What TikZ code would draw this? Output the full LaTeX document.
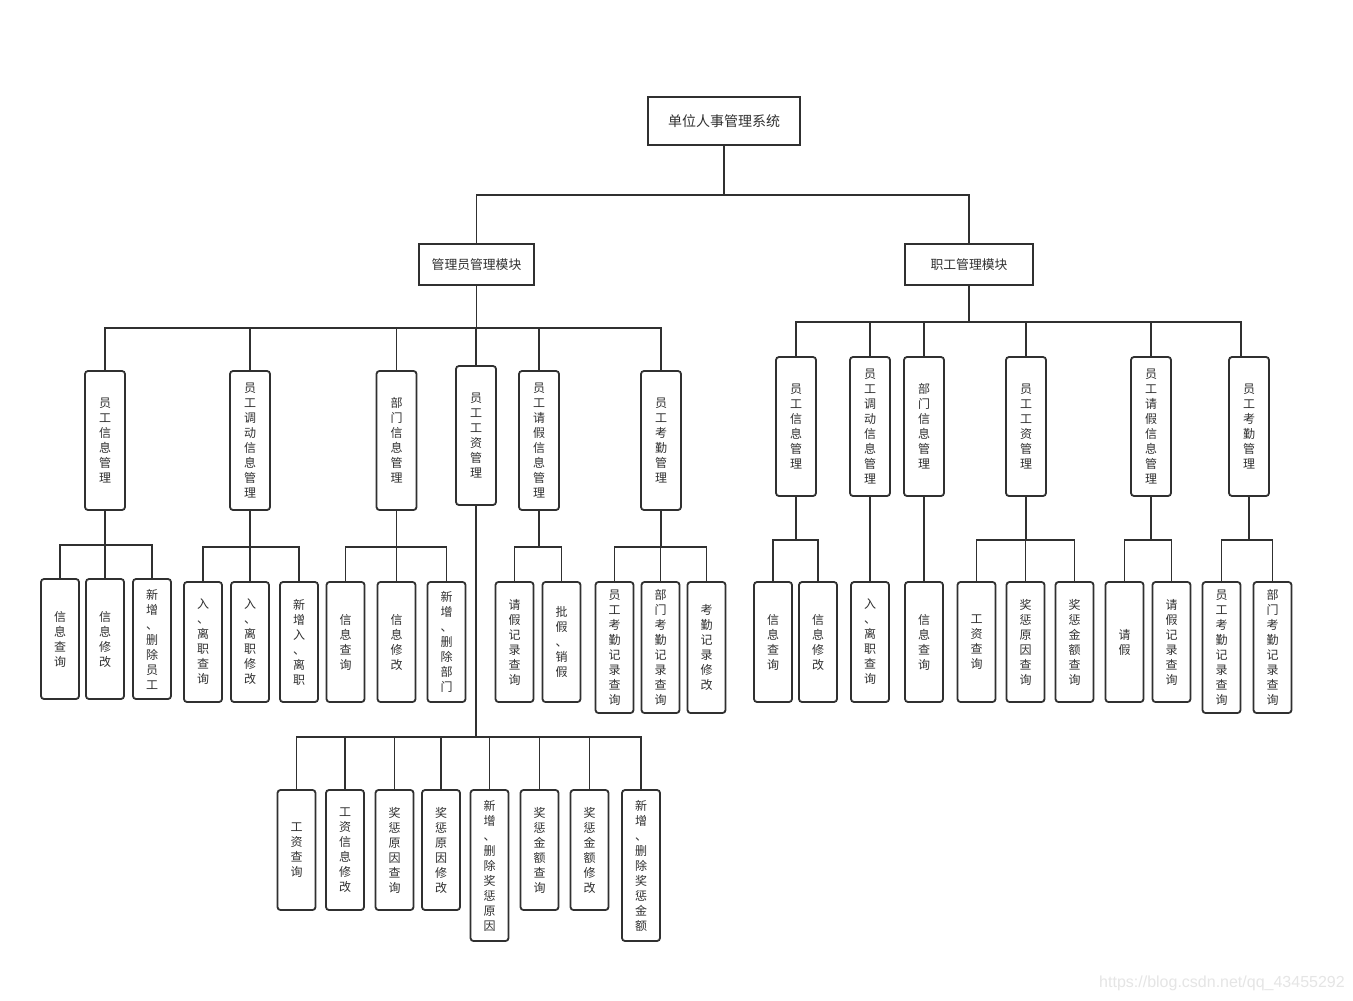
\documentclass[tikz,border=0pt]{standalone}
\usepackage{fontspec}
\newfontfamily\cjk{Noto Sans CJK SC}
\newfontfamily\wmfont{Liberation Sans}
\definecolor{ink}{HTML}{303030}
\begin{document}
\begin{tikzpicture}[x=1pt,y=-1pt,
  link/.style={draw=ink, line width=1.8pt},
  fork/.style={to path={-- ++(0,#1) -| (\tikztotarget)}},
  topbox/.style={draw=ink, line width=1.8pt, fill=white, inner sep=0pt, text=ink,
    font=\cjk\fontsize{14}{16}\selectfont},
  modbox/.style={topbox, minimum height=41pt, font=\cjk\fontsize{12.8}{15}\selectfont},
  vbox/.style={draw=ink, line width=1.8pt, rounded corners=3pt, fill=white, align=center,
    inner sep=0pt, minimum width=40pt, minimum height=139pt, text=ink,
    font=\cjk\fontsize{12}{15}\selectfont},
  leaf/.style={vbox, minimum width=38pt, minimum height=120pt},
  leafmid/.style={leaf, minimum height=131pt},
  leaftall/.style={leaf, minimum height=151pt}]

\fill[white] (0,0) rectangle (1353,1001);
\useasboundingbox (0,0) rectangle (1353,1001);

% top levels
\node[topbox, minimum width=152pt, minimum height=48pt] (root) at (724,121) {单位人事管理系统};
\node[modbox, minimum width=115pt] (adm) at (476.5,264.5) {管理员管理模块};
\node[modbox, minimum width=128pt] (emp) at (969,264.5) {职工管理模块};

% administrator module
\node[vbox] (L1) at (105,440.5) {员\\工\\信\\息\\管\\理};
\node[vbox] (L2) at (250,440.5) {员\\工\\调\\动\\信\\息\\管\\理};
\node[vbox] (L3) at (396.5,440.5) {部\\门\\信\\息\\管\\理};
\node[vbox] (L4) at (476,435.5) {员\\工\\工\\资\\管\\理};
\node[vbox] (L5) at (539,440.5) {员\\工\\请\\假\\信\\息\\管\\理};
\node[vbox] (L6) at (661,440.5) {员\\工\\考\\勤\\管\\理};

\node[leaf] (L1a) at (60,639) {信\\息\\查\\询};
\node[leaf] (L1b) at (105,639) {信\\息\\修\\改};
\node[leaf] (L1c) at (152,639) {新\\增\\、\\删\\除\\员\\工};

\node[leaf] (L2a) at (203,642) {入\\、\\离\\职\\查\\询};
\node[leaf] (L2b) at (250,642) {入\\、\\离\\职\\修\\改};
\node[leaf] (L2c) at (299,642) {新\\增\\入\\、\\离\\职};

\node[leaf] (L3a) at (345.5,642) {信\\息\\查\\询};
\node[leaf] (L3b) at (396.5,642) {信\\息\\修\\改};
\node[leaf] (L3c) at (446.5,642) {新\\增\\、\\删\\除\\部\\门};

\node[leaf] (L5a) at (514.5,642) {请\\假\\记\\录\\查\\询};
\node[leaf] (L5b) at (561.5,642) {批\\假\\、\\销\\假};

\node[leafmid] (L6a) at (614.5,647.5) {员\\工\\考\\勤\\记\\录\\查\\询};
\node[leafmid] (L6b) at (660.5,647.5) {部\\门\\考\\勤\\记\\录\\查\\询};
\node[leafmid] (L6c) at (706.5,647.5) {考\\勤\\记\\录\\修\\改};

\node[leaf] (S1) at (296.5,850) {工\\资\\查\\询};
\node[leaf] (S2) at (345,850) {工\\资\\信\\息\\修\\改};
\node[leaf] (S3) at (394.5,850) {奖\\惩\\原\\因\\查\\询};
\node[leaf] (S4) at (441,850) {奖\\惩\\原\\因\\修\\改};
\node[leaftall] (S5) at (489.5,865.5) {新\\增\\、\\删\\除\\奖\\惩\\原\\因};
\node[leaf] (S6) at (539.5,850) {奖\\惩\\金\\额\\查\\询};
\node[leaf] (S7) at (589.5,850) {奖\\惩\\金\\额\\修\\改};
\node[leaftall] (S8) at (641,865.5) {新\\增\\、\\删\\除\\奖\\惩\\金\\额};

% staff module
\node[vbox] (R1) at (796,426.5) {员\\工\\信\\息\\管\\理};
\node[vbox] (R2) at (870,426.5) {员\\工\\调\\动\\信\\息\\管\\理};
\node[vbox] (R3) at (924,426.5) {部\\门\\信\\息\\管\\理};
\node[vbox] (R4) at (1026,426.5) {员\\工\\工\\资\\管\\理};
\node[vbox] (R5) at (1151,426.5) {员\\工\\请\\假\\信\\息\\管\\理};
\node[vbox] (R6) at (1249,426.5) {员\\工\\考\\勤\\管\\理};

\node[leaf] (R1a) at (773,642) {信\\息\\查\\询};
\node[leaf] (R1b) at (818,642) {信\\息\\修\\改};
\node[leaf] (R2a) at (870,642) {入\\、\\离\\职\\查\\询};
\node[leaf] (R3a) at (924,642) {信\\息\\查\\询};
\node[leaf] (R4a) at (976.5,642) {工\\资\\查\\询};
\node[leaf] (R4b) at (1025.5,642) {奖\\惩\\原\\因\\查\\询};
\node[leaf] (R4c) at (1074.5,642) {奖\\惩\\金\\额\\查\\询};
\node[leaf] (R5a) at (1124.5,642) {请\\假};
\node[leaf] (R5b) at (1171.5,642) {请\\假\\记\\录\\查\\询};
\node[leafmid] (R6a) at (1221.5,647.5) {员\\工\\考\\勤\\记\\录\\查\\询};
\node[leafmid] (R6b) at (1272.5,647.5) {部\\门\\考\\勤\\记\\录\\查\\询};

% connectors
\foreach \c in {adm,emp} \draw[link] (root.south) to[fork=49] (\c.north);
\foreach \c in {L1,L2,L3,L4,L5,L6} \draw[link] (adm.south) to[fork=42] (\c.north);
\foreach \c in {R1,R2,R3,R4,R5} \draw[link] (emp.south) to[fork=36] (\c.north);
\draw[link] (emp.south) to[fork=36] ([xshift=-8pt]R6.north);

\foreach \c in {L1a,L1b,L1c} \draw[link] (L1.south) to[fork=34] (\c.north);
\foreach \c in {L2a,L2b,L2c} \draw[link] (L2.south) to[fork=36] (\c.north);
\foreach \c in {L3a,L3b,L3c} \draw[link] (L3.south) to[fork=36] (\c.north);
\foreach \c in {S1,S2,S3,S4,S5,S6,S7,S8} \draw[link] (L4.south) to[fork=231] (\c.north);
\foreach \c in {L5a,L5b} \draw[link] (L5.south) to[fork=36] (\c.north);
\foreach \c in {L6a,L6b,L6c} \draw[link] (L6.south) to[fork=36] (\c.north);

\foreach \c in {R1a,R1b} \draw[link] (R1.south) to[fork=43] (\c.north);
\draw[link] (R2.south) -- (R2a.north);
\draw[link] (R3.south) -- (R3a.north);
\foreach \c in {R4a,R4b,R4c} \draw[link] (R4.south) to[fork=43] (\c.north);
\foreach \c in {R5a,R5b} \draw[link] (R5.south) to[fork=43] (\c.north);
\foreach \c in {R6a,R6b} \draw[link] (R6.south) to[fork=43] (\c.north);

% watermark
\node[text=black!10, font=\wmfont\fontsize{16}{18}\selectfont, inner sep=0pt] (wm) at (1222,983) {https://blog.csdn.net/qq\_43455292};
\end{tikzpicture}
\end{document}
